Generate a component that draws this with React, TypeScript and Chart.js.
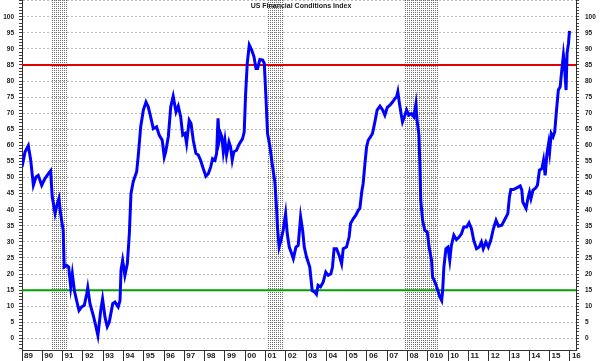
import React, { useEffect, useRef } from "react";
import { Chart, registerables } from "chart.js";

Chart.register(...registerables);

const TITLE = "US Financial Conditions Index";

const years = [
  1989.0, 1989.15, 1989.31, 1989.43, 1989.56, 1989.69, 1989.8, 1989.97, 1990.13, 1990.3,
  1990.41, 1990.49, 1990.63, 1990.74, 1990.82, 1990.9, 1991.03, 1991.08, 1991.2, 1991.3,
  1991.4, 1991.48, 1991.58, 1991.69, 1991.81, 1991.94, 1992.07, 1992.19, 1992.24, 1992.35,
  1992.51, 1992.65, 1992.74, 1992.88, 1992.97, 1993.09, 1993.2, 1993.3, 1993.47, 1993.58,
  1993.74, 1993.83, 1993.88, 1993.96, 1994.07, 1994.19, 1994.29, 1994.37, 1994.48, 1994.65,
  1994.73, 1994.85, 1994.98, 1995.11, 1995.22, 1995.34, 1995.47, 1995.63, 1995.76, 1995.91,
  1996.01, 1996.08, 1996.21, 1996.33, 1996.45, 1996.59, 1996.7, 1996.82, 1996.92, 1997.03,
  1997.11, 1997.24, 1997.33, 1997.44, 1997.57, 1997.69, 1997.8, 1997.93, 1998.06, 1998.18,
  1998.3, 1998.39, 1998.51, 1998.59, 1998.66, 1998.72, 1998.79, 1998.85, 1998.92, 1999.0,
  1999.08, 1999.2, 1999.28, 1999.36, 1999.44, 1999.57, 1999.7, 1999.87, 1999.95, 2000.02,
  2000.1, 2000.2, 2000.32, 2000.43, 2000.53, 2000.61, 2000.72, 2000.86, 2000.94, 2001.02,
  2001.1, 2001.22, 2001.35, 2001.46, 2001.54, 2001.59, 2001.67, 2001.76, 2001.87, 2001.99,
  2002.07, 2002.17, 2002.29, 2002.37, 2002.5, 2002.61, 2002.73, 2002.83, 2002.91, 2003.02,
  2003.18, 2003.3, 2003.43, 2003.51, 2003.59, 2003.71, 2003.84, 2003.97, 2004.09, 2004.22,
  2004.3, 2004.38, 2004.5, 2004.63, 2004.75, 2004.83, 2004.99, 2005.12, 2005.19, 2005.32,
  2005.45, 2005.57, 2005.65, 2005.74, 2005.81, 2005.9, 2005.98, 2006.06, 2006.18, 2006.27,
  2006.39, 2006.5, 2006.64, 2006.77, 2006.88, 2007.0, 2007.13, 2007.26, 2007.38, 2007.46,
  2007.52, 2007.6, 2007.68, 2007.75, 2007.87, 2007.95, 2008.06, 2008.19, 2008.31, 2008.41,
  2008.47, 2008.56, 2008.61, 2008.65, 2008.74, 2008.85, 2008.97, 2009.06, 2009.18, 2009.23,
  2009.35, 2009.46, 2009.59, 2009.68, 2009.73, 2009.79, 2009.89, 2009.99, 2010.08, 2010.16,
  2010.28, 2010.41, 2010.54, 2010.66, 2010.77, 2010.91, 2011.03, 2011.15, 2011.26, 2011.4,
  2011.53, 2011.64, 2011.73, 2011.86, 2011.98, 2012.1, 2012.23, 2012.36, 2012.48, 2012.64,
  2012.81, 2012.94, 2013.02, 2013.09, 2013.22, 2013.38, 2013.55, 2013.63, 2013.68, 2013.76,
  2013.84, 2013.93, 2014.01, 2014.08, 2014.18, 2014.29, 2014.4, 2014.5, 2014.62, 2014.7,
  2014.78, 2014.87, 2014.95, 2015.0, 2015.08, 2015.17, 2015.25, 2015.34, 2015.43, 2015.52,
  2015.6, 2015.68, 2015.73, 2015.81, 2015.86, 2015.93, 2015.98,
];

const fciValues = [
  53.3, 58.0, 59.9, 55.4, 47.6, 50.2, 50.7, 47.6, 49.7, 51.2,
  52.1, 44.0, 38.8, 41.9, 43.5, 38.8, 33.6, 22.2, 22.7, 22.2,
  16.0, 20.1, 14.9, 11.8, 8.7, 9.8, 10.3, 13.9, 15.8, 10.8,
  7.2, 3.5, 0.9, 8.7, 12.3, 6.6, 3.7, 5.1, 10.8, 11.3,
  9.8, 11.8, 21.2, 24.3, 19.6, 23.2, 32.6, 45.0, 48.7, 51.8,
  56.9, 65.8, 71.0, 73.5, 72.0, 68.9, 65.2, 65.8, 63.2, 61.6,
  56.4, 58.0, 62.7, 72.0, 75.3, 70.4, 72.2, 68.9, 63.2, 63.7,
  60.6, 67.8, 66.8, 61.6, 57.5, 57.0, 55.4, 52.8, 50.4, 51.2,
  53.3, 55.9, 55.4, 57.5, 68.4, 61.6, 63.7, 62.7, 58.0, 61.6,
  57.0, 61.1, 59.5, 55.4, 58.0, 58.5, 60.4, 62.1, 64.2, 76.1,
  85.5, 91.2, 89.6, 87.6, 83.9, 83.9, 86.7, 86.5, 85.5, 75.1,
  63.7, 59.5, 53.3, 48.7, 40.9, 34.6, 28.4, 30.5, 33.6, 38.8,
  32.6, 28.4, 26.3, 24.8, 28.4, 28.9, 37.8, 33.6, 28.4, 25.3,
  22.2, 14.9, 14.4, 13.7, 16.5, 16.0, 17.5, 20.6, 19.6, 20.1,
  22.2, 27.9, 27.9, 25.8, 23.2, 27.9, 28.4, 31.5, 35.7, 37.2,
  38.3, 39.8, 40.4, 45.5, 48.1, 54.4, 59.5, 61.6, 62.7, 63.7,
  67.3, 71.0, 72.2, 71.0, 69.4, 71.8, 72.5, 73.5, 74.6, 75.1,
  76.7, 73.0, 69.9, 67.3, 69.4, 71.0, 69.4, 69.9, 68.9, 72.8,
  67.8, 63.2, 53.3, 42.9, 36.7, 33.6, 33.1, 28.4, 24.3, 19.1,
  17.5, 15.5, 12.9, 11.8, 14.9, 22.2, 27.9, 28.4, 24.3, 28.9,
  32.1, 30.7, 31.5, 32.6, 34.6, 34.6, 35.9, 34.1, 30.5, 27.9,
  28.4, 30.0, 27.9, 30.0, 28.4, 30.5, 34.1, 36.7, 34.9, 35.2,
  37.2, 38.8, 44.0, 46.3, 46.3, 46.8, 47.4, 46.1, 42.4, 41.4,
  40.4, 43.5, 45.5, 43.5, 46.1, 46.6, 47.6, 52.3, 52.8, 55.4,
  50.7, 57.5, 60.6, 58.0, 63.7, 62.7, 64.2, 71.0, 77.2, 78.2,
  83.4, 88.1, 85.0, 77.2, 88.6, 91.7, 95.6,
];

const yearTicks = [
  1989, 1990, 1991, 1992, 1993, 1994, 1995, 1996, 1997, 1998, 1999, 2000, 2001, 2002,
  2003, 2004, 2005, 2006, 2007, 2008, 2009, 2010, 2011, 2012, 2013, 2014, 2015, 2016,
];
const yearLabels = [
  "89", "90", "91", "92", "93", "94", "95", "96", "97", "98", "99", "00", "01", "02",
  "03", "04", "05", "06", "07", "08", "010", "10", "11", "12", "13", "14", "15", "16",
];

const recessionStarts = [1990.46, 2001.13, 2007.87];
const recessionEnds = [1991.2, 2001.87, 2009.46];

const upperLevel = 85;
const lowerLevel = 15;

const X_MIN = 1989;
const X_MAX = 2016.3;
const Y_MIN = -3.6;
const Y_MAX = 105.2;

const yTickValues: number[] = [];
for (let v = -3; v <= 105; v++) yTickValues.push(v);

const LABEL_FONT = "'Liberation Sans', Arial, sans-serif";

const overlayPlugin = {
  id: "overlay",
  beforeDatasetsDraw(chart: any) {
    const { ctx, chartArea, scales } = chart;
    const xs = scales.x;
    const ys = scales.y;
    ctx.save();
    ctx.beginPath();
    ctx.rect(chartArea.left, chartArea.top, chartArea.right - chartArea.left, chartArea.bottom - chartArea.top);
    ctx.clip();
    for (let i = 0; i < recessionStarts.length; i++) {
      const x0 = Math.round(xs.getPixelForValue(recessionStarts[i]));
      const x1 = Math.round(xs.getPixelForValue(recessionEnds[i]));
      ctx.strokeStyle = "#6e6e6e";
      ctx.lineWidth = 1;
      ctx.setLineDash([1, 1]);
      for (let x = x0; x <= x1; x += 2) {
        ctx.beginPath();
        ctx.moveTo(x + 0.5, chartArea.top);
        ctx.lineTo(x + 0.5, chartArea.bottom);
        ctx.stroke();
      }
    }
    ctx.setLineDash([]);
    const drawH = (v: number, color: string) => {
      const y = ys.getPixelForValue(v);
      ctx.strokeStyle = color;
      ctx.lineWidth = 2;
      ctx.beginPath();
      ctx.moveTo(chartArea.left, y);
      ctx.lineTo(chartArea.right, y);
      ctx.stroke();
    };
    drawH(upperLevel, "#e00000");
    drawH(lowerLevel, "#00a000");
    ctx.restore();
  },
  afterDraw(chart: any) {
    const { ctx } = chart;
    ctx.save();
    ctx.font = `bold 7px ${LABEL_FONT}`;
    ctx.fillStyle = "#202020";
    ctx.textAlign = "center";
    ctx.textBaseline = "middle";
    ctx.fillText(TITLE, 301, 6);
    ctx.restore();
  },
};

export default function App() {
  const canvasRef = useRef<HTMLCanvasElement | null>(null);

  useEffect(() => {
    document.body.style.margin = "0";
    const canvas = canvasRef.current;
    if (!canvas) return;
    const points = years.map((x, i) => ({ x, y: fciValues[i] }));

    const yAxisCommon = (position: "left" | "right", drawGrid: boolean, pad: number, width: number) => ({
      type: "linear" as const,
      position,
      min: Y_MIN,
      max: Y_MAX,
      afterBuildTicks: (scale: any) => {
        scale.ticks = yTickValues.map((value) => ({ value }));
      },
      afterFit: (scale: any) => {
        scale.width = width;
        scale.paddingTop = 0;
        scale.paddingBottom = 0;
      },
      ticks: {
        autoSkip: false,
        padding: pad,
        color: "#202020",
        font: { family: LABEL_FONT, size: 6.5, weight: "bold" as const },
        callback: (v: any) => (v % 5 === 0 && v >= 0 && v <= 100 ? String(v) : ""),
      },
      grid: {
        drawOnChartArea: drawGrid,
        color: (c: any) => (c.tick && c.tick.value % 5 === 0 ? "#bdbdbd" : "rgba(0,0,0,0)"),
        tickColor: "#404040",
        tickLength: 3,
        lineWidth: 1,
      },
      border: { display: true, color: "#303030", width: 1, dash: [2, 2] },
    });

    const chart = new Chart(canvas, {
      type: "line",
      data: {
        datasets: [
          {
            label: TITLE,
            data: points,
            borderColor: "#0000ff",
            borderWidth: 3,
            pointRadius: 0,
            tension: 0,
            fill: false,
          },
        ],
      },
      options: {
        animation: false,
        responsive: true,
        maintainAspectRatio: false,
        layout: { padding: 0 },
        plugins: { legend: { display: false }, tooltip: { enabled: false }, title: { display: false } },
        scales: {
          x: {
            type: "linear",
            min: X_MIN,
            max: X_MAX,
            afterBuildTicks: (scale: any) => {
              scale.ticks = yearTicks.map((value) => ({ value }));
            },
            afterFit: (scale: any) => {
              scale.height = 11;
              scale.paddingLeft = 0;
              scale.paddingRight = 0;
            },
            ticks: {
              autoSkip: false,
              maxRotation: 0,
              minRotation: 0,
              align: "start",
              labelOffset: 2,
              padding: -10,
              color: "#202020",
              font: { family: LABEL_FONT, size: 8, weight: "bold" },
              callback: (v: any) => {
                const i = yearTicks.indexOf(Math.round(Number(v)));
                return i >= 0 ? yearLabels[i] : "";
              },
            },
            grid: {
              drawOnChartArea: false,
              color: "#303030",
              tickLength: 11,
            },
            border: { display: true, color: "#303030", width: 1 },
          },
          y: yAxisCommon("left", true, 5, 22) as any,
          y2: yAxisCommon("right", false, 6, 24) as any,
        },
      },
      plugins: [overlayPlugin],
    });
    return () => chart.destroy();
  }, []);

  return (
    <div style={{ width: 600, height: 361, position: "relative" }}>
      <canvas ref={canvasRef} />
    </div>
  );
}
